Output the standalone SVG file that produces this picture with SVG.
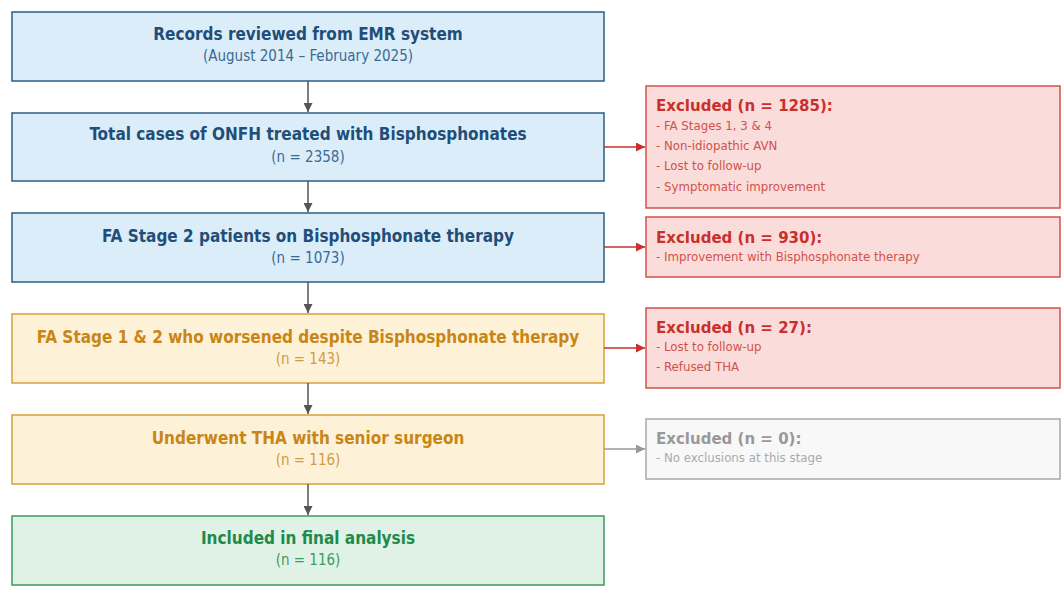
<svg xmlns="http://www.w3.org/2000/svg" width="1063" height="600" viewBox="0 0 1063 600">
<defs>
<marker id="ah" viewBox="0 0 10 10" refX="10" refY="5" markerWidth="9" markerHeight="9" markerUnits="userSpaceOnUse" orient="auto"><path d="M0,0L10,5L0,10z" fill="#555"/></marker>
<marker id="ahr" viewBox="0 0 10 10" refX="10" refY="5" markerWidth="9" markerHeight="9" markerUnits="userSpaceOnUse" orient="auto"><path d="M0,0L10,5L0,10z" fill="#c9302c"/></marker>
<marker id="ahg" viewBox="0 0 10 10" refX="10" refY="5" markerWidth="9" markerHeight="9" markerUnits="userSpaceOnUse" orient="auto"><path d="M0,0L10,5L0,10z" fill="#999"/></marker>
</defs>
<style>
text{font-family:"DejaVu Sans Condensed","DejaVu Sans",sans-serif}
.t{font-size:17px;font-weight:bold;text-anchor:middle}
.s{font-size:15px;text-anchor:middle}
.et{font-size:16.7px;font-weight:bold}
.ei{font-size:13.1px}
.blue rect{fill:#dcedfa;stroke:#2b5d86;stroke-width:1.5}
.blue text{fill:#1f4e79}
.blue .s{fill:#3a6a94}
.orange rect{fill:#fdf2d8;stroke:#d9a03a;stroke-width:1.5}
.orange text{fill:#c98516}
.orange .s{fill:#d39a45}
.green rect{fill:#e0f2e6;stroke:#3d9a60;stroke-width:1.5}
.green text{fill:#1f8a4c}
.green .s{fill:#3c9a62}
.red rect{fill:#fadcda;stroke:#d0524c;stroke-width:1.5}
.red text{fill:#c9302c}
.red .ei{fill:#d0524c}
.gray rect{fill:#f8f8f8;stroke:#a8a8a8;stroke-width:1.5}
.gray text{fill:#999}
.gray .ei{fill:#aaa}
</style>
<rect width="1063" height="600" fill="#ffffff"/>
<g id="n1" class="blue"><rect x="12" y="12" width="592" height="69"/><text class="t" x="308" y="40">Records reviewed from EMR system</text><text class="s" x="308" y="61">(August 2014 – February 2025)</text></g>
<g id="n2" class="blue"><rect x="12" y="113" width="592" height="68"/><text class="t" x="308" y="140">Total cases of ONFH treated with Bisphosphonates</text><text class="s" x="308" y="162">(n = 2358)</text></g>
<g id="n3" class="blue"><rect x="12" y="213" width="592" height="69"/><text class="t" x="308" y="242">FA Stage 2 patients on Bisphosphonate therapy</text><text class="s" x="308" y="263">(n = 1073)</text></g>
<g id="n4" class="orange"><rect x="12" y="314" width="592" height="69"/><text class="t" x="308" y="343">FA Stage 1 &amp; 2 who worsened despite Bisphosphonate therapy</text><text class="s" x="308" y="364">(n = 143)</text></g>
<g id="n5" class="orange"><rect x="12" y="415" width="592" height="69"/><text class="t" x="308" y="444">Underwent THA with senior surgeon</text><text class="s" x="308" y="465">(n = 116)</text></g>
<g id="n6" class="green"><rect x="12" y="516" width="592" height="69"/><text class="t" x="308" y="544">Included in final analysis</text><text class="s" x="308" y="565">(n = 116)</text></g>
<g id="e1" class="red"><rect x="646" y="86" width="414" height="122"/><text class="et" x="656" y="111">Excluded (n = 1285):</text><text class="ei" x="656" y="130">- FA Stages 1, 3 &amp; 4</text><text class="ei" x="656" y="150">- Non-idiopathic AVN</text><text class="ei" x="656" y="170">- Lost to follow-up</text><text class="ei" x="656" y="191">- Symptomatic improvement</text></g>
<g id="e2" class="red"><rect x="646" y="217" width="414" height="60"/><text class="et" x="656" y="243">Excluded (n = 930):</text><text class="ei" x="656" y="261">- Improvement with Bisphosphonate therapy</text></g>
<g id="e3" class="red"><rect x="646" y="308" width="414" height="80"/><text class="et" x="656" y="333">Excluded (n = 27):</text><text class="ei" x="656" y="351">- Lost to follow-up</text><text class="ei" x="656" y="371">- Refused THA</text></g>
<g id="e4" class="gray"><rect x="646" y="419" width="414" height="60"/><text class="et" x="656" y="444">Excluded (n = 0):</text><text class="ei" x="656" y="462">- No exclusions at this stage</text></g>
<g id="connectors" fill="none" stroke-width="1.5">
<line x1="308" y1="81" x2="308" y2="112" stroke="#555" marker-end="url(#ah)"/>
<line x1="308" y1="181" x2="308" y2="212" stroke="#555" marker-end="url(#ah)"/>
<line x1="308" y1="282" x2="308" y2="313" stroke="#555" marker-end="url(#ah)"/>
<line x1="308" y1="383" x2="308" y2="414" stroke="#555" marker-end="url(#ah)"/>
<line x1="308" y1="484" x2="308" y2="515" stroke="#555" marker-end="url(#ah)"/>
<line x1="604" y1="147" x2="645" y2="147" stroke="#c9302c" marker-end="url(#ahr)"/>
<line x1="604" y1="247" x2="645" y2="247" stroke="#c9302c" marker-end="url(#ahr)"/>
<line x1="604" y1="348" x2="645" y2="348" stroke="#c9302c" marker-end="url(#ahr)"/>
<line x1="604" y1="449" x2="645" y2="449" stroke="#999" marker-end="url(#ahg)"/>
</g>
</svg>
